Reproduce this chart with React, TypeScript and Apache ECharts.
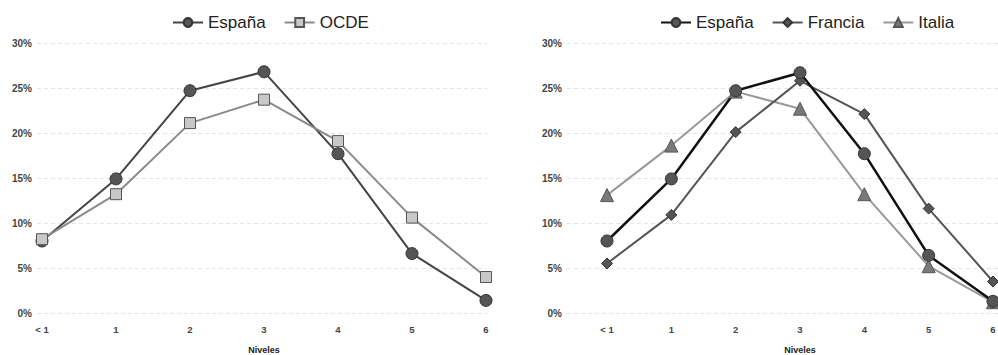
import React, { useEffect, useRef } from "react";
import * as echarts from "echarts";

const niveles = ["< 1", "1", "2", "3", "4", "5", "6"];
const yTicks = { min: 0, max: 30, interval: 5 };

// España vs OCDE (% of students at each level)
const espana = [8.0, 14.9, 24.7, 26.8, 17.7, 6.6, 1.4];
const ocde = [8.2, 13.2, 21.1, 23.7, 19.1, 10.6, 4.0];

// España, Francia, Italia
const espana2 = [8.0, 14.9, 24.7, 26.7, 17.7, 6.4, 1.3];
const francia = [5.5, 10.9, 20.1, 25.8, 22.1, 11.6, 3.5];
const italia = [13.1, 18.6, 24.6, 22.7, 13.2, 5.2, 1.2];

const FONT = "'Liberation Sans', Arial, Helvetica, sans-serif";

type Layout = {
  gridLeft: number;
  gridRight: number;
  plotLeft: number;
  plotRight: number;
  legendLeft: number;
};

function buildOption(layout: Layout, series: any[], legendNames: string[]) {
  const top = 43;
  const bottom = 42;
  return {
    animation: false,
    textStyle: { fontFamily: FONT },
    legend: {
      data: legendNames,
      left: layout.legendLeft,
      top: 9,
      itemWidth: 30,
      itemHeight: 11,
      itemGap: 18,
      textStyle: { fontSize: 17, color: "#222", fontFamily: FONT },
    },
    grid: [
      {
        left: layout.gridLeft,
        right: layout.gridRight,
        top,
        bottom,
        containLabel: false,
        outerBoundsMode: "none",
      },
      {
        left: layout.plotLeft,
        right: layout.plotRight,
        top,
        bottom,
        containLabel: false,
        outerBoundsMode: "none",
      },
    ],
    xAxis: [
      { type: "value", gridIndex: 0, min: 0, max: 1, show: false },
      {
        type: "category",
        gridIndex: 1,
        data: niveles,
        boundaryGap: false,
        axisLine: { show: false },
        axisTick: { show: false },
        axisLabel: {
          fontSize: 9.5,
          fontWeight: "bold",
          color: "#444",
          margin: 11,
        },
        name: "Niveles",
        nameLocation: "middle",
        nameGap: 32,
        nameTextStyle: { fontSize: 9, fontWeight: "bold", color: "#222" },
      },
    ],
    yAxis: [
      {
        type: "value",
        gridIndex: 0,
        ...yTicks,
        axisLine: { show: false },
        axisTick: { show: false },
        axisLabel: {
          formatter: (v: number) => `${v}%`,
          fontSize: 10,
          fontWeight: "bold",
          color: "#444",
          margin: 5,
        },
        splitLine: {
          lineStyle: { color: "#e4e4e4", type: [4, 3], width: 1 },
        },
      },
      { type: "value", gridIndex: 1, ...yTicks, show: false },
    ],
    series,
  };
}

function lineSeries(
  name: string,
  data: number[],
  symbol: string,
  size: number,
  lineColor: string,
  fill: string,
  stroke: string,
  width: number
) {
  return {
    name,
    type: "line",
    xAxisIndex: 1,
    yAxisIndex: 1,
    data,
    symbol,
    symbolSize: size,
    showSymbol: true,
    clip: false,
    lineStyle: { color: lineColor, width },
    itemStyle: { color: fill, borderColor: stroke, borderWidth: 1 },
  };
}

function Chart({ option, style }: { option: any; style: React.CSSProperties }) {
  const ref = useRef<HTMLDivElement>(null);
  useEffect(() => {
    if (!ref.current) return;
    const chart = echarts.init(ref.current, undefined, { renderer: "svg" });
    chart.setOption(option);
    return () => chart.dispose();
  }, [option]);
  return <div ref={ref} style={style} />;
}

const leftOption = buildOption(
  { gridLeft: 37, gridRight: 13, plotLeft: 42, plotRight: 14, legendLeft: 167 },
  [
    lineSeries("España", espana, "circle", 12, "#444", "#555", "#333", 2),
    lineSeries("OCDE", ocde, "rect", 11, "#8a8a8a", "#c8c8c8", "#555", 2),
  ],
  ["España", "OCDE"]
);

const rightOption = buildOption(
  { gridLeft: 67, gridRight: 0, plotLeft: 107, plotRight: 5, legendLeft: 155 },
  [
    lineSeries("Italia", italia, "triangle", 13, "#999", "#7a7a7a", "#555", 2),
    lineSeries("Francia", francia, "diamond", 11, "#555", "#555", "#333", 2),
    lineSeries("España", espana2, "circle", 12, "#111", "#555", "#333", 2.5),
  ],
  ["España", "Francia", "Italia"]
);

export default function App() {
  return (
    <div
      style={{
        position: "fixed",
        left: 0,
        top: 0,
        width: 998,
        height: 355,
        background: "#fff",
      }}
    >
      <Chart
        option={leftOption}
        style={{ position: "absolute", left: 0, top: 0, width: 500, height: 355 }}
      />
      <Chart
        option={rightOption}
        style={{ position: "absolute", left: 500, top: 0, width: 498, height: 355 }}
      />
    </div>
  );
}
